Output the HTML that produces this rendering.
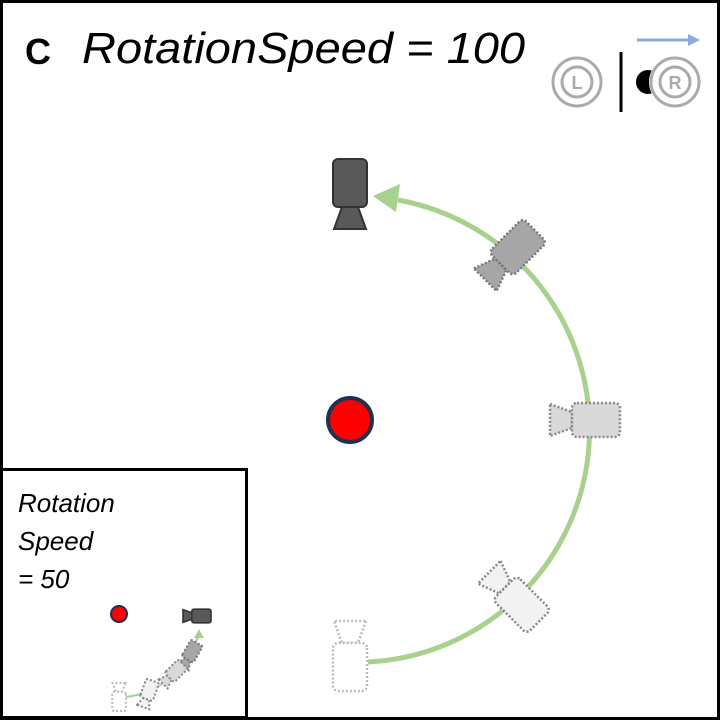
<!DOCTYPE html>
<html><head><style>html,body{margin:0;padding:0;background:#fff}svg{display:block}</style></head>
<body>
<svg width="720" height="720" viewBox="0 0 720 720" xmlns="http://www.w3.org/2000/svg">
<defs>
<g id="cam"><polygon points="-35,-16 -13,-8 -13,8 -35,16"/><rect x="-13" y="-17" width="48" height="34" rx="5"/></g>
</defs>
<rect x="1.5" y="1.5" width="717" height="717" fill="#fff" stroke="#000" stroke-width="3"/>
<text x="25" y="64" font-family="Liberation Sans, sans-serif" font-weight="bold" font-size="36">C</text>
<text x="82" y="63" font-family="Liberation Sans, sans-serif" font-style="italic" font-size="44" textLength="443" lengthAdjust="spacingAndGlyphs">RotationSpeed = 100</text>
<!-- icons -->
<line x1="637" y1="40" x2="690" y2="40" stroke="#8faadc" stroke-width="3"/>
<polygon points="688,34 700,40 688,46" fill="#8faadc"/>
<circle cx="577" cy="82" r="24" fill="none" stroke="#aaa" stroke-width="3"/>
<circle cx="577" cy="82" r="15" fill="none" stroke="#aaa" stroke-width="3"/>
<text x="577" y="89" text-anchor="middle" font-family="Liberation Sans, sans-serif" font-weight="bold" font-size="18" fill="#aaa">L</text>
<line x1="621" y1="52" x2="621" y2="112" stroke="#000" stroke-width="3"/>
<circle cx="648" cy="82" r="12" fill="#000"/>
<circle cx="675" cy="82" r="26" fill="#fff"/>
<circle cx="675" cy="82" r="24" fill="none" stroke="#aaa" stroke-width="3"/>
<circle cx="675" cy="82" r="15" fill="none" stroke="#aaa" stroke-width="3"/>
<text x="675" y="89" text-anchor="middle" font-family="Liberation Sans, sans-serif" font-weight="bold" font-size="18" fill="#aaa">R</text>
<!-- arc -->
<path d="M368,662 A233,233 0 0 0 398,200" fill="none" stroke="#a9d18e" stroke-width="5"/>
<polygon points="373,196 400,184 396,212" fill="#a9d18e"/>
<!-- cameras -->
<use href="#cam" transform="translate(350,194) rotate(-90)" fill="#595959" stroke="#333" stroke-width="2"/>
<use href="#cam" transform="translate(510,255) rotate(-45)" fill="#a6a6a6" stroke="#777" stroke-width="2.5" stroke-dasharray="2,2"/>
<use href="#cam" transform="translate(585,420)" fill="#d9d9d9" stroke="#888" stroke-width="2.5" stroke-dasharray="2,2"/>
<use href="#cam" transform="translate(514,597) rotate(45)" fill="#f2f2f2" stroke="#888" stroke-width="2.5" stroke-dasharray="2,2"/>
<use href="#cam" transform="translate(350,656) rotate(90)" fill="#fff" stroke="#bbb" stroke-width="2.5" stroke-dasharray="2,2"/>
<circle cx="350" cy="420" r="22" fill="#f00" stroke="#1f3050" stroke-width="4"/>
<!-- inset -->
<rect x="1.5" y="469.5" width="245" height="248" fill="#fff" stroke="#000" stroke-width="3"/>
<g font-family="Liberation Sans, sans-serif" font-style="italic" font-size="26">
<text x="18" y="512">Rotation</text><text x="18" y="550">Speed</text><text x="18" y="588">= 50</text></g>
<circle cx="119" cy="614" r="8" fill="#f00" stroke="#1f3050" stroke-width="2"/>
<use href="#cam" transform="translate(197,616) scale(0.4)" fill="#595959" stroke="#333" stroke-width="4"/>
<path d="M125,697 Q175,692 199,635" fill="none" stroke="#a9d18e" stroke-width="2"/>
<polygon points="199,629 204,638 194,638" fill="#a9d18e"/>
<use href="#cam" transform="translate(190,655) rotate(-60) scale(0.4)" fill="#a6a6a6" stroke="#777" stroke-width="5" stroke-dasharray="5,5"/>
<use href="#cam" transform="translate(173,674) rotate(-45) scale(0.4)" fill="#d9d9d9" stroke="#888" stroke-width="5" stroke-dasharray="5,5"/>
<use href="#cam" transform="translate(148,694) rotate(-70) scale(0.4)" fill="#f2f2f2" stroke="#888" stroke-width="5" stroke-dasharray="5,5"/>
<use href="#cam" transform="translate(119,697) rotate(90) scale(0.4)" fill="#fff" stroke="#bbb" stroke-width="5" stroke-dasharray="5,5"/>
</svg>
</body></html>
